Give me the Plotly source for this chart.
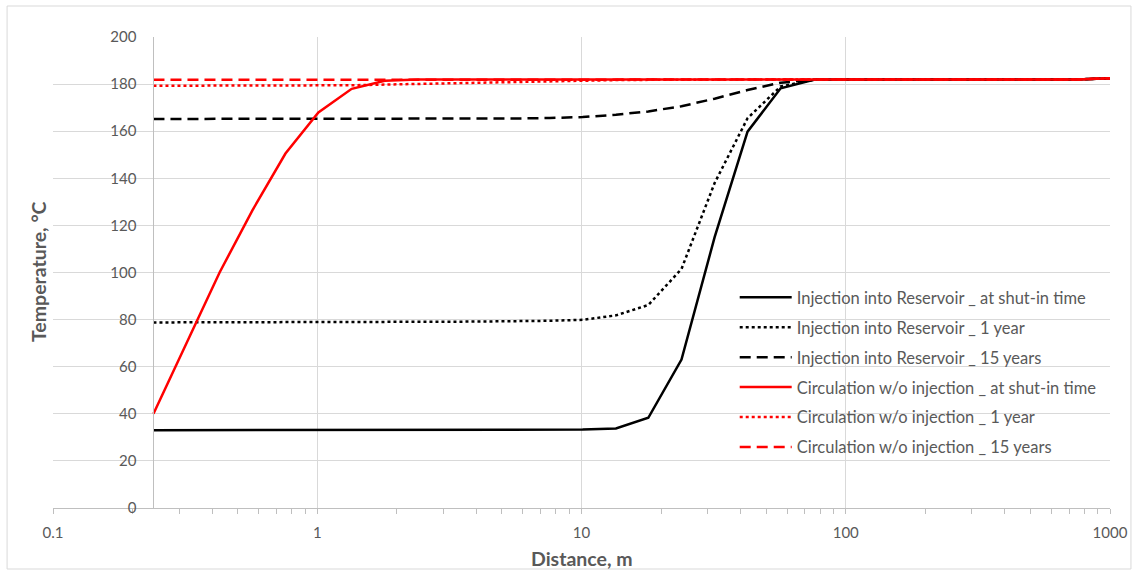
import plotly.graph_objects as go
import math

# ---- data ----
distance_m = [0.24, 0.32, 0.427, 0.569, 0.758, 1.01, 1.35, 1.80, 2.40, 3.20,
              4.26, 5.68, 7.58, 10.1, 13.5, 17.9, 23.9, 31.9, 42.5, 56.7,
              75.6, 101, 134, 179, 239, 319, 425, 567, 755, 1000]

inj_shutin = [33.0, 33.0, 33.0, 33.0, 33.0, 33.0, 33.0, 33.0, 33.0, 33.0,
              33.0, 33.0, 33.1, 33.3, 33.8, 38.3, 63.0, 115.0, 159.8, 178.2,
              181.8, 182.0, 182.0, 182.0, 182.0, 182.0, 182.0, 182.0, 182.0, 182.5]

inj_1yr = [78.8, 78.8, 78.8, 78.8, 78.8, 78.8, 78.9, 79.0, 79.0, 79.1,
           79.2, 79.3, 79.5, 79.9, 81.8, 86.2, 101.5, 138.0, 165.5, 179.0,
           181.8, 182.0, 182.0, 182.0, 182.0, 182.0, 182.0, 182.0, 182.0, 182.5]

inj_15yr = [165.2, 165.2, 165.2, 165.2, 165.2, 165.2, 165.2, 165.2, 165.2, 165.2,
            165.3, 165.4, 165.6, 166.0, 167.0, 168.4, 170.6, 173.8, 177.5, 180.6,
            181.8, 182.0, 182.0, 182.0, 182.0, 182.0, 182.0, 182.0, 182.0, 182.5]

circ_shutin = [40.0, 70.0, 100.0, 126.5, 150.5, 168.0, 178.0, 181.4, 182.0, 182.0,
               182.0, 182.0, 182.0, 182.0, 182.0, 182.0, 182.0, 182.0, 182.0, 182.0,
               182.0, 182.0, 182.0, 182.0, 182.0, 182.0, 182.0, 182.0, 182.0, 182.5]

circ_1yr = [179.3, 179.3, 179.3, 179.3, 179.3, 179.3, 179.5, 179.8, 180.1, 180.4,
            180.7, 181.0, 181.3, 181.5, 181.7, 181.8, 181.9, 182.0, 182.0, 182.0,
            182.0, 182.0, 182.0, 182.0, 182.0, 182.0, 182.0, 182.0, 182.0, 182.5]

circ_15yr = [181.8, 181.8, 181.8, 181.8, 181.8, 181.8, 181.8, 181.8, 181.8, 181.8,
             181.8, 181.8, 181.9, 181.9, 182.0, 182.0, 182.0, 182.0, 182.0, 182.0,
             182.0, 182.0, 182.0, 182.0, 182.0, 182.0, 182.0, 182.0, 182.0, 182.5]

series_names = [
    "Injection into Reservoir _ at shut-in time",
    "Injection into Reservoir _ 1 year",
    "Injection into Reservoir _ 15 years",
    "Circulation w/o injection _ at shut-in time",
    "Circulation w/o injection _ 1 year",
    "Circulation w/o injection _ 15 years",
]
series_values = [inj_shutin, inj_1yr, inj_15yr, circ_shutin, circ_1yr, circ_15yr]

x_tick_vals = [0.1, 1, 10, 100, 1000]
x_tick_text = ["0.1", "1", "10", "100", "1000"]
y_tick_vals = [0, 20, 40, 60, 80, 100, 120, 140, 160, 180, 200]

# ---- styles ----
colors = ["#000000", "#000000", "#000000", "#ff0000", "#ff0000", "#ff0000"]
dashes = ["solid", "dot", "11px,6px", "solid", "dot", "11px,6px"]
GREY = "#595959"
GRID = "#d9d9d9"
FONT = "Lato, 'Open Sans', sans-serif"

fig = go.Figure()
for i, (name, vals) in enumerate(zip(series_names, series_values)):
    fig.add_trace(go.Scatter(
        x=distance_m, y=vals, mode="lines", name=name,
        legendgroup="g%d" % i,
        line=dict(color=colors[i], width=2.5, dash=dashes[i]),
    ))

W, H = 1140, 573
ml, mr, mt, mb = 53, 28, 37, 65
pw, ph = W - ml - mr, H - mt - mb

def px_to_paper_x(px):
    return (px - ml) / pw

def px_to_paper_y(py):
    return (H - mb - py) / ph

yaxis_pos = (math.log10(distance_m[0]) + 1) / 4.0

fig.update_layout(
    width=W, height=H,
    margin=dict(l=ml, r=mr, t=mt, b=mb),
    paper_bgcolor="white", plot_bgcolor="white",
    font=dict(family=FONT, color=GREY, size=15),
    showlegend=True,
    legend=dict(
        x=px_to_paper_x(736), y=px_to_paper_y(280), xanchor="left", yanchor="top",
        bgcolor="rgba(0,0,0,0)", borderwidth=0,
        font=dict(family=FONT, size=16.5, color=GREY),
        traceorder="grouped", tracegroupgap=5.5, itemwidth=52,
    ),
    xaxis=dict(
        type="log", range=[-1, 3],
        tickvals=x_tick_vals, ticktext=x_tick_text,
        showgrid=True, gridcolor=GRID, gridwidth=1,
        showline=True, linecolor="#bfbfbf", linewidth=1,
        ticks="outside", ticklen=5, tickcolor="#bfbfbf",
        ticklabelstandoff=6,
        minor=dict(ticks="outside", ticklen=5, tickcolor="#bfbfbf", showgrid=False,
                   dtick="D1"),
        zeroline=False,
        tickfont=dict(family=FONT, size=15, color=GREY),
    ),
    yaxis=dict(
        range=[0, 200], tickvals=y_tick_vals,
        anchor="free", position=yaxis_pos,
        showgrid=True, gridcolor=GRID, gridwidth=1,
        showline=True, linecolor="#bfbfbf", linewidth=1,
        ticks="", ticklabelstandoff=14,
        zeroline=False,
        tickfont=dict(family=FONT, size=15, color=GREY),
    ),
    annotations=[
        dict(text="<b>Distance, m</b>", xref="paper", yref="paper",
             x=px_to_paper_x(583), y=px_to_paper_y(558), xanchor="center", yanchor="middle",
             showarrow=False, font=dict(family=FONT, size=19.5, color=GREY)),
        dict(text="<b>Temperature, °C</b>", xref="paper", yref="paper",
             x=px_to_paper_x(38), y=px_to_paper_y(272), xanchor="center", yanchor="middle",
             textangle=-90,
             showarrow=False, font=dict(family=FONT, size=19.5, color=GREY)),
    ],
    shapes=[
        dict(type="rect", xref="paper", yref="paper",
             x0=px_to_paper_x(7), x1=px_to_paper_x(1133),
             y0=px_to_paper_y(569), y1=px_to_paper_y(6),
             line=dict(color=GRID, width=1), fillcolor="rgba(0,0,0,0)", layer="below"),
    ],
)

fig.write_html("out.html")
